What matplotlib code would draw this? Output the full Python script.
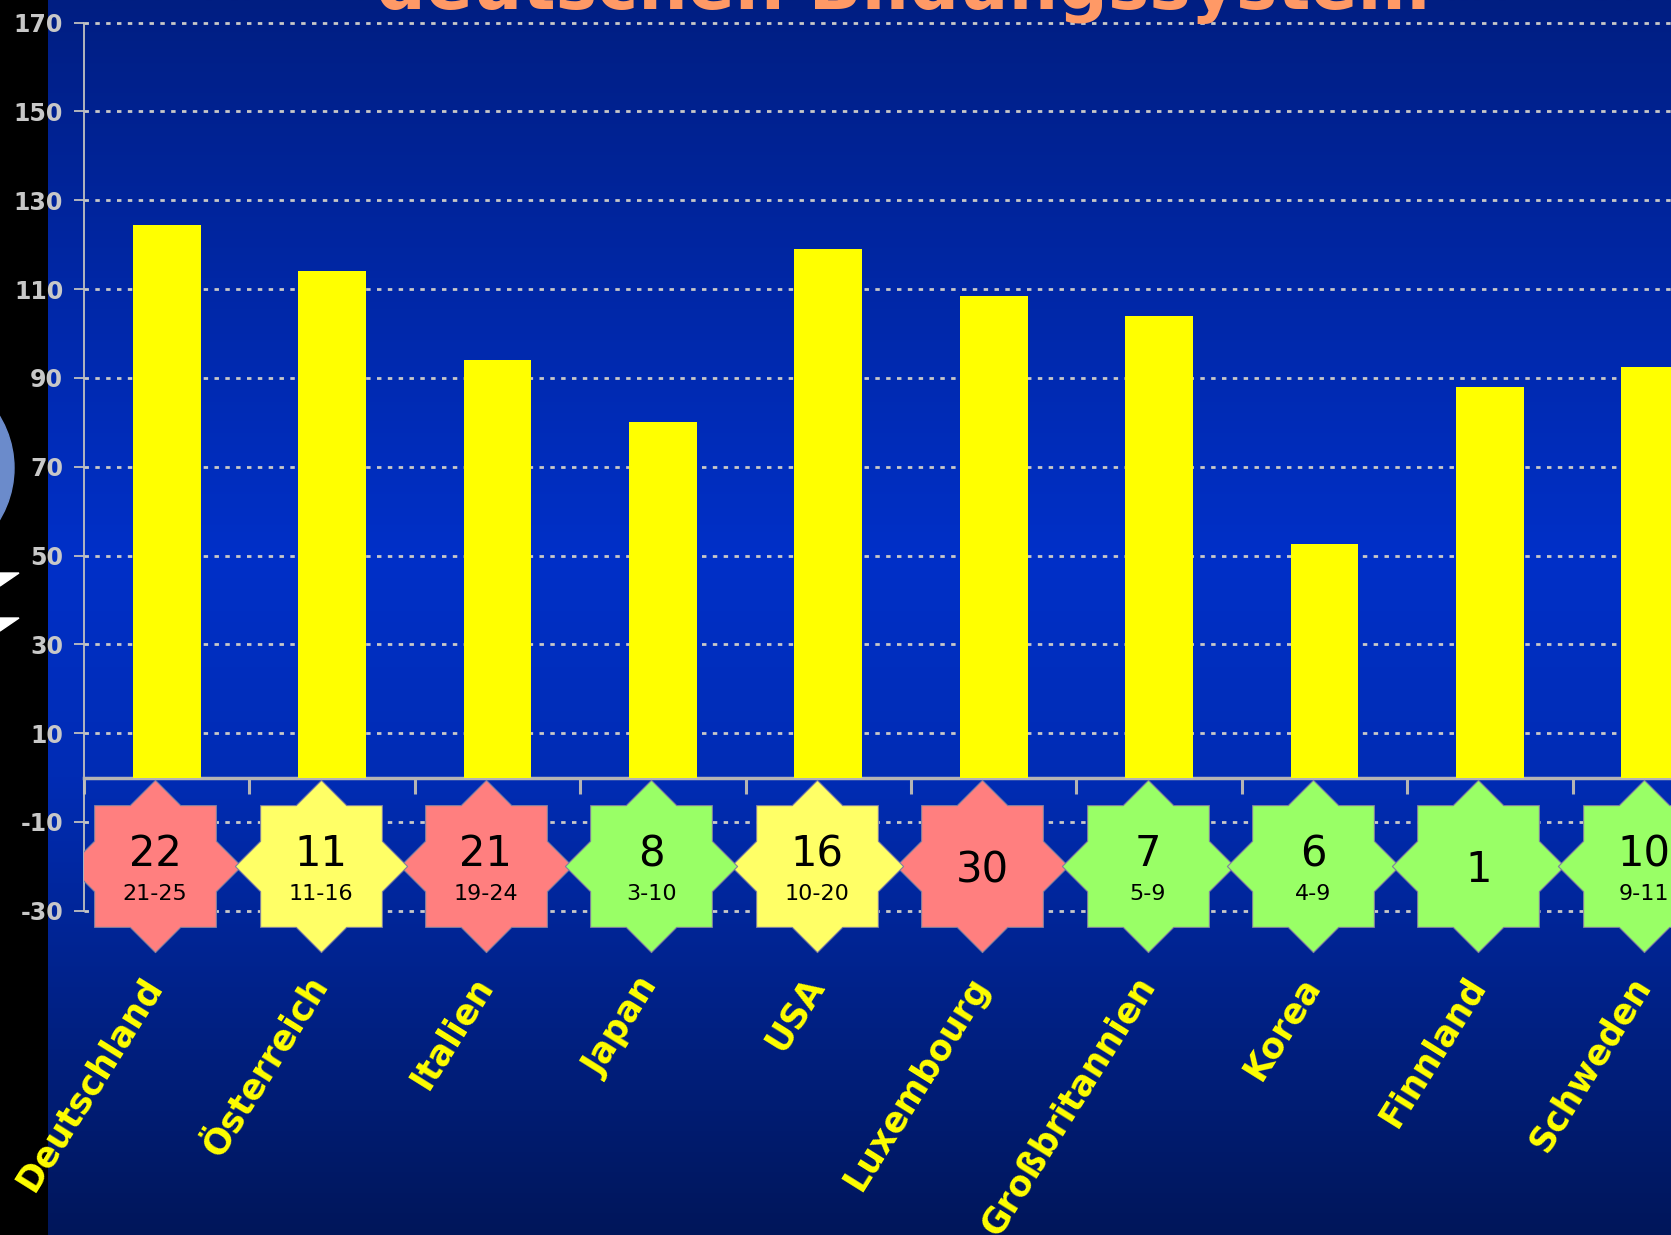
import numpy as np
import matplotlib
matplotlib.use("Agg")
import matplotlib.pyplot as plt
from matplotlib.path import Path
from matplotlib.patches import Circle, Polygon

# ---------------- data ----------------
countries = ["Deutschland", "Österreich", "Italien", "Japan", "USA",
             "Luxembourg", "Großbritannien", "Korea", "Finnland", "Schweden"]
values = [124.5, 114, 94, 80, 119, 108.5, 104, 52.5, 88, 92.5]
ranks = ["22", "11", "21", "8", "16", "30", "7", "6", "1", "10"]
rank_ranges = ["21-25", "11-16", "19-24", "3-10", "10-20", "", "5-9", "4-9", "", "9-11"]
rank_groups = ["red", "yellow", "red", "green", "yellow", "red", "green", "green", "green", "green"]
y_ticks = list(range(-30, 171, 20))
title = "deutschen Bildungssystem"
badge_y = -20

group_colors = {"red": "#FF7F7F", "yellow": "#FFFF66", "green": "#99FF66"}

# ---------------- figure ----------------
W, H = 1671, 1235
fig = plt.figure(figsize=(W / 100, H / 100), dpi=100, facecolor="black")

# background gradient (slide)
bg = fig.add_axes([48 / W, 0, 1 - 48 / W, 1], zorder=0)
stops = np.array([0.0, 0.45, 0.63, 0.8, 1.0])
cols = np.array([[0, 30, 130], [0, 48, 200], [0, 44, 180], [0, 34, 138], [0, 22, 90]]) / 255
yy = np.linspace(0, 1, 600)
grad = np.stack([np.interp(yy, stops, cols[:, i]) for i in range(3)], axis=1)
bg.imshow(grad[:, None, :], aspect="auto", interpolation="bilinear")
bg.set_axis_off()

# slide decorations on the black strip
deco = fig.add_axes([0, 0, 1, 1], zorder=1)
deco.set_xlim(0, W)
deco.set_ylim(H, 0)
deco.set_axis_off()
deco.add_patch(Circle((-86, 468), 100, color="#6B8BCB"))
deco.add_patch(Polygon([[0, 573], [19, 573], [0, 586]], color="white"))
deco.add_patch(Polygon([[0, 618], [19, 618], [0, 631]], color="white"))

# main axes
ax = fig.add_axes([84 / W, 0, 1 - 84 / W, 1], zorder=2)
ax.set_facecolor("none")
x = np.arange(len(countries))

ax.bar(x, values, width=0.41, color="#FFFF00", zorder=3)

# grid & axes styling
ax.set_yticks(y_ticks, [str(v) for v in y_ticks])
ax.set_xticks(np.arange(-0.5, len(countries), 1.0))
ax.set_xlim(-0.5, -0.5 + (W - 84) / 165.4)
ax.set_ylim(-(H - 777.5) / 4.44, 777.5 / 4.44)

ax.set_axisbelow(True)
ax.yaxis.grid(True, color="#C8C8C8", linestyle=(0, (1.6, 2.3)), linewidth=2.0)
for s in ("top", "right"):
    ax.spines[s].set_visible(False)
ax.spines["left"].set_bounds(-30, 170)
ax.spines["left"].set_color("#C0C0C0")
ax.spines["left"].set_linewidth(1.3)
ax.spines["bottom"].set_position(("data", 0))
ax.spines["bottom"].set_color("#B4B4B4")
ax.spines["bottom"].set_linewidth(2.5)

ax.tick_params(axis="x", direction="out", length=11.5, width=2.2,
               color="#B4B4B4", labelbottom=False)
ax.tick_params(axis="y", direction="out", length=7, width=1.3, color="#C0C0C0",
               labelcolor="#C8C8C8", labelsize=17, pad=8)
for lbl in ax.get_yticklabels():
    lbl.set_fontweight("bold")

# 8-pointed star badge marker (two overlapping squares)
verts = []
r_in = 1 / np.cos(np.deg2rad(22.5))
for k in range(8):
    a = np.deg2rad(45 * k)
    verts.append((np.sqrt(2) * np.cos(a), np.sqrt(2) * np.sin(a)))
    b = np.deg2rad(45 * k + 22.5)
    verts.append((r_in * np.cos(b), r_in * np.sin(b)))
verts.append(verts[0])
star = Path(verts, closed=True)

bx = x - 0.07  # badges sit slightly left of the category centres
for grp, col in group_colors.items():
    idx = [i for i, g in enumerate(rank_groups) if g == grp]
    ax.plot(bx[idx], [badge_y] * len(idx), marker=star, markersize=124,
            linestyle="none", markerfacecolor=col, markeredgecolor="#8080A0",
            markeredgewidth=0.8, zorder=4)

for i in x:
    if rank_ranges[i]:
        ax.text(bx[i], badge_y, ranks[i], ha="center", va="baseline",
                fontsize=30, color="black", zorder=5)
        ax.text(bx[i], badge_y - 7.6, rank_ranges[i], ha="center", va="baseline",
                fontsize=16, color="black", zorder=5)
    else:
        ax.text(bx[i], badge_y - 3.6, ranks[i], ha="center", va="baseline",
                fontsize=30, color="black", zorder=5)

# rotated country labels
for i in x:
    ax.text(i - 0.16, -43.5, countries[i], rotation=58, rotation_mode="anchor",
            ha="right", va="top", color="#FFFF00", fontsize=25,
            fontweight="bold", zorder=5)

# partially visible slide title
fig.text(903 / W, 1 - 9 / H, title, ha="center", va="baseline", fontsize=50,
         fontweight="bold", color="#FF9966", zorder=3)

fig.savefig("out.png", dpi=100, facecolor="black")
